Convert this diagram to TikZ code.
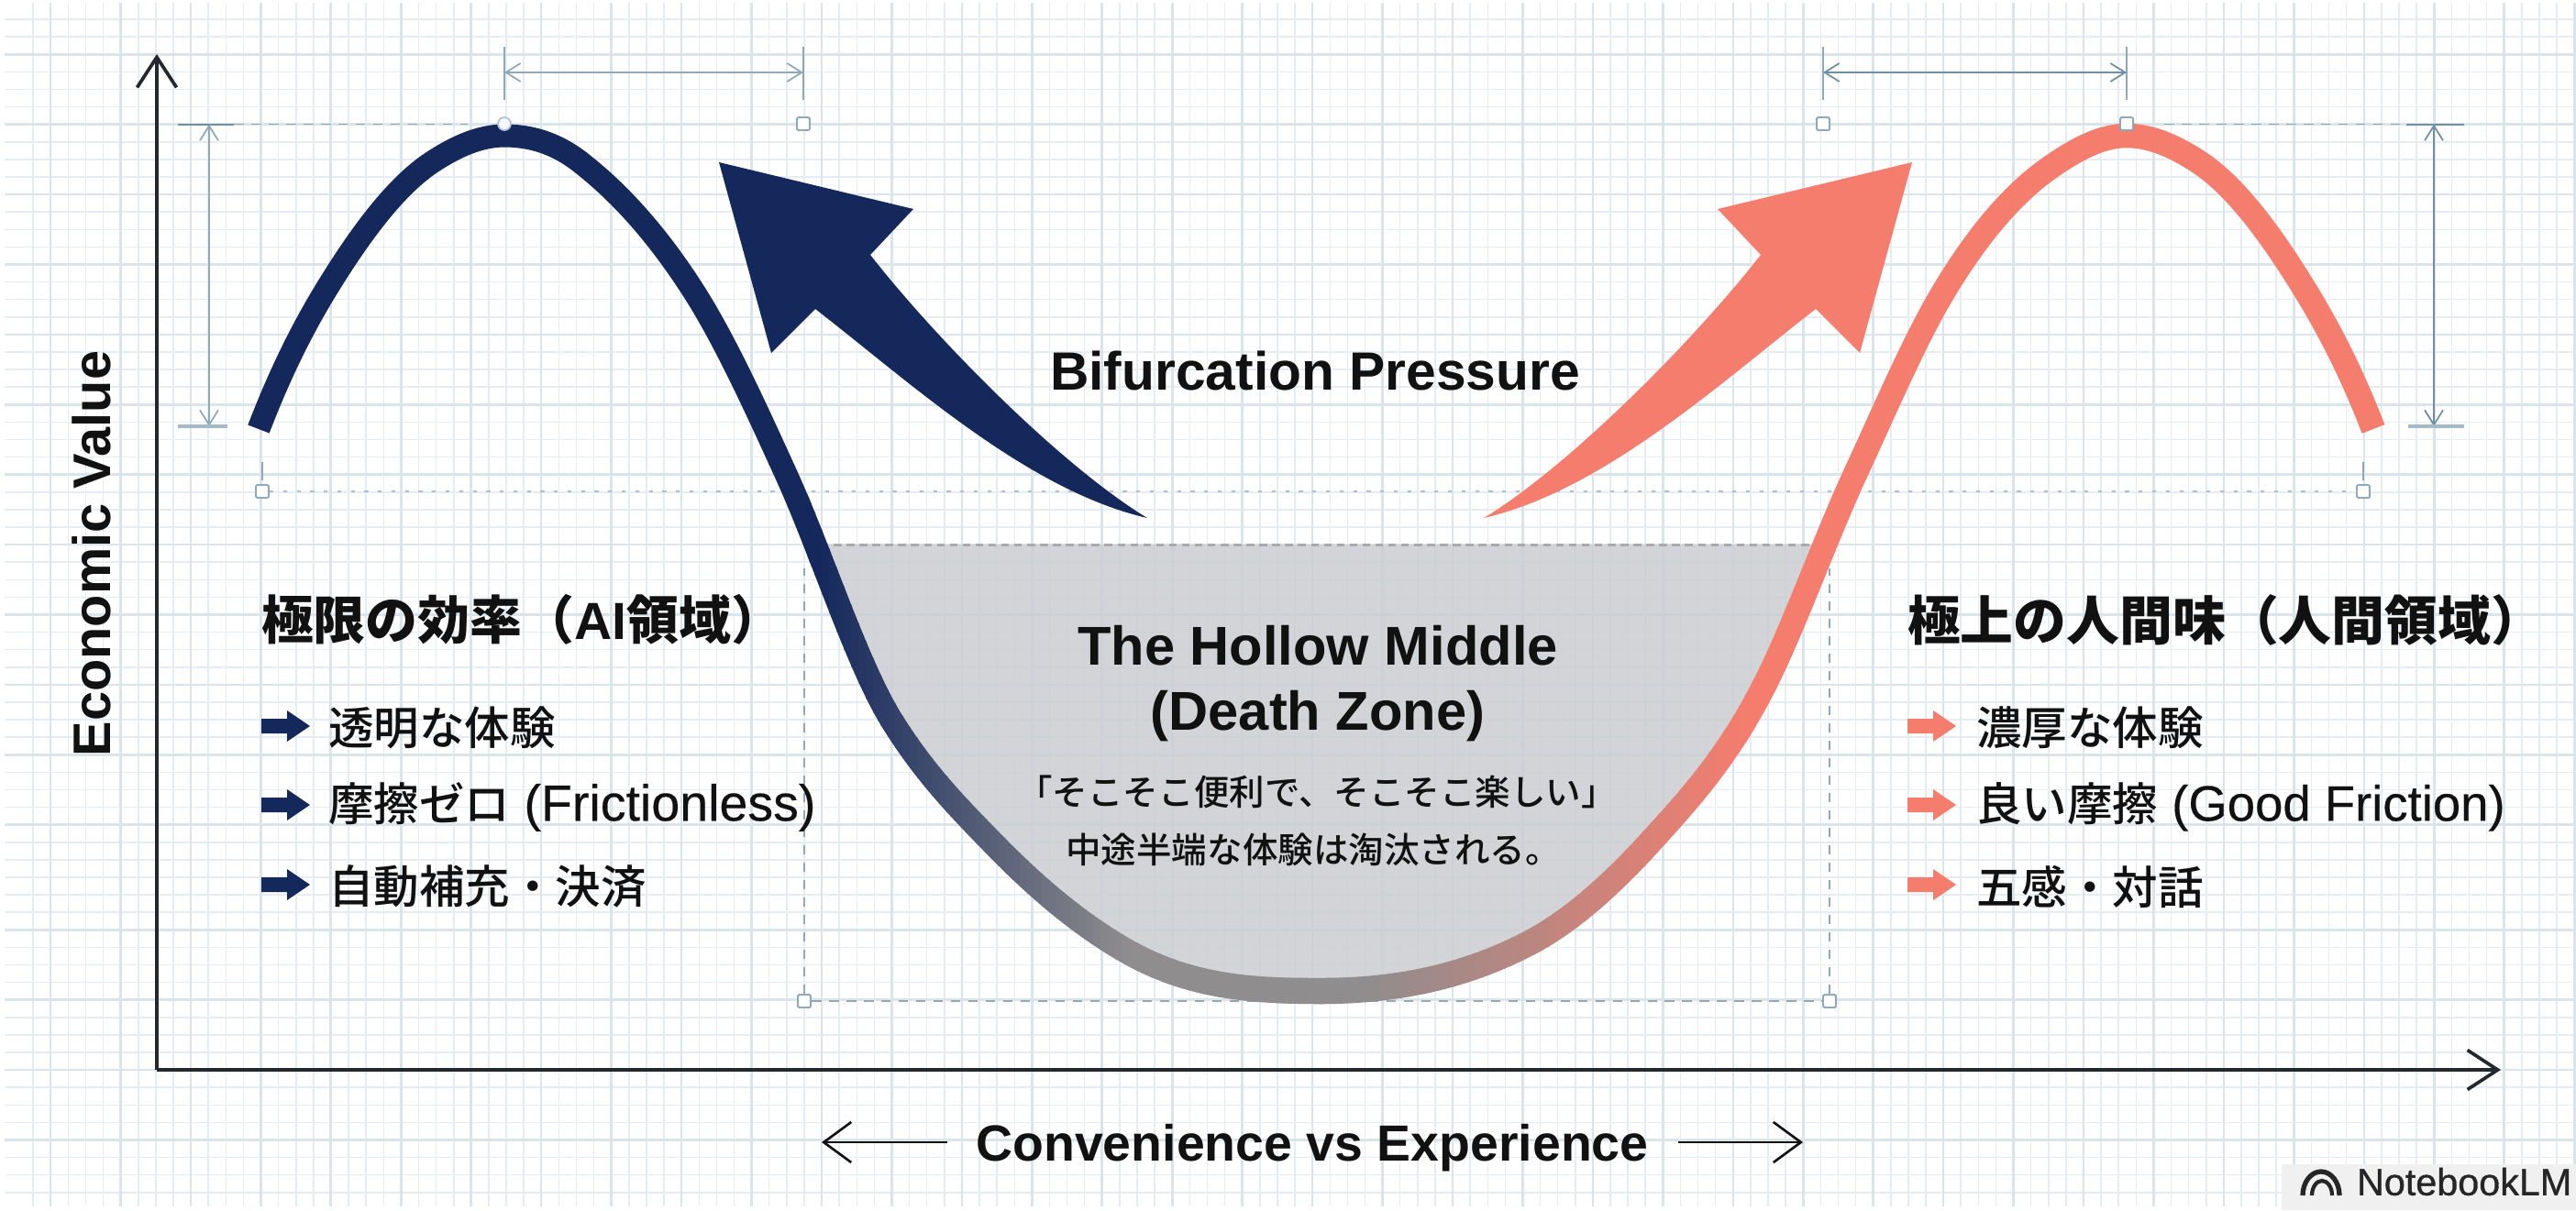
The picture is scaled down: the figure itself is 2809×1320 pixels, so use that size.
\documentclass[tikz,border=0pt]{standalone}
\usepackage{fontspec}
\usetikzlibrary{arrows.meta}
\setmainfont{Liberation Sans}
\newfontfamily\cjk{Noto Sans CJK JP}
\newfontfamily\cjkm{Noto Sans CJK JP Medium}
\newfontfamily\latm[FakeBold=0.3]{Liberation Sans}
\newfontfamily\latn[FakeBold=0.8]{Liberation Sans}
\newcommand{\fsz}[1]{\fontsize{#1pt}{#1pt}\selectfont}
\definecolor{navyc}{HTML}{14285C}
\definecolor{salmonc}{HTML}{F47D6E}
\definecolor{midc}{HTML}{8F8D8E}
\definecolor{gridminor}{HTML}{E6EDF2}
\definecolor{gridmajor}{HTML}{D9E4EB}
\definecolor{dimc}{HTML}{8FA9BB}
\definecolor{dimd}{HTML}{6F8FA6}
\definecolor{axisc}{HTML}{23272E}
\definecolor{hollowc}{HTML}{CCCFD2}
\definecolor{txtc}{HTML}{111111}
\tikzset{
  minorline/.style={gridminor,line width=0.43pt},
  majorline/.style={gridmajor,line width=0.75pt},
  axisline/.style={axisc,line width=1.05pt,-{Straight Barb[length=0.33cm,width=0.43cm,line width=1.05pt]}},
  sidearrow/.style={txtc,line width=0.75pt,-{Straight Barb[length=0.3cm,width=0.44cm,line width=0.75pt]}},
  dimtick/.style={dimc,line width=0.5pt},
  dimarrow/.style={dimc,line width=0.7pt,{Straight Barb[length=0.16cm,width=0.2cm,line width=0.5pt]}-{Straight Barb[length=0.16cm,width=0.2cm,line width=0.5pt]}},
  dimarrowd/.style={dimarrow,dimd},
  guidedash/.style={dimc,line width=0.5pt,dash pattern=on 3pt off 2.4pt},
  guidedot/.style={dimc!75,line width=0.55pt,dash pattern=on 1.2pt off 3pt},
  hollowdash/.style={midc!75,line width=0.85pt,dash pattern=on 2.4pt off 1.6pt},
  handle/.style={draw=dimc,fill=white,line width=0.55pt,rectangle,rounded corners=0.4pt,minimum size=0.14cm,inner sep=0pt},
  roundhandle/.style={draw=dimc!70,fill=white!92!dimc,line width=0.5pt,circle,minimum size=0.14cm,inner sep=0pt},
  curveline/.style={line cap=butt,line join=round},
  lbl/.style={inner sep=0pt,outer sep=0pt,text=txtc},
  itemlbl/.style={lbl,anchor=west},
}
\def\lowerpart{(857,517) .. controls (895.7,602) and (934.3,725.1) .. (973,787) .. controls (1009.7,845.7) and (1046.3,882.2) .. (1083,920) .. controls (1133,971.5) and (1183,1012.5) .. (1233,1040) .. controls (1302,1078) and (1371,1081) .. (1440,1081) .. controls (1515.7,1081) and (1591.3,1068.3) .. (1667,1029) .. controls (1711.3,1006) and (1755.7,966.8) .. (1800,918) .. controls (1839,875.1) and (1878,833) .. (1917,761) .. controls (1952.3,695.6) and (1987.7,593.3) .. (2023,517)}
\def\curvepath{(282,468) .. controls (306.3,404.7) and (330.7,356.9) .. (355,317) .. controls (393.7,253.6) and (432.3,202.5) .. (471,177) .. controls (497.3,159.6) and (523.7,148) .. (550,148) .. controls (577.7,148) and (605.3,155.4) .. (633,177) .. controls (674,209) and (715,253) .. (756,317) .. controls (789.7,369.5) and (823.3,443) .. \lowerpart .. controls (2055.3,447.2) and (2087.7,370.7) .. (2120,317) .. controls (2158.3,253.4) and (2196.7,209.8) .. (2235,183) .. controls (2263,163.4) and (2291,148) .. (2319,148) .. controls (2345.3,148) and (2371.7,159.6) .. (2398,177) .. controls (2436.7,202.5) and (2475.3,253.6) .. (2514,317) .. controls (2538.7,357.5) and (2563.3,403.9) .. (2588,468)}
\begin{document}
\begin{tikzpicture}[x=0.01cm,y=-0.01cm]
\useasboundingbox (0,0) rectangle (2809,1320);
\fill[white] (0,0) rectangle (2809,1320);
% grid
\foreach \k in {1,...,146} \draw[minorline] ({17+19.11*\k},3) -- ({17+19.11*\k},1316);
\foreach \k in {1,...,68} \draw[minorline] (5,{2+19.1*\k}) -- (2809,{2+19.1*\k});
\foreach \k in {0,...,36} \draw[majorline] ({55+76.45*\k},3) -- ({55+76.45*\k},1316);
\foreach \k in {3,7,...,47,53,57,61,65} \draw[majorline] (5,{2+19.1*\k}) -- (2809,{2+19.1*\k});
% guide handles
\node[handle] (hTL) at (876,135) {};
\node[handle] (hTR) at (1988,135) {};
\node[handle] (hBL) at (286,536) {};
\node[handle] (hBR) at (2577,536) {};
\node[handle] (hML) at (877,1092) {};
\node[handle] (hMR) at (1995,1092) {};
\coordinate (pkL) at (550,135);
\coordinate (pkR) at (2319,135);
\draw[guidedot] (hBL) -- (hBR);
\draw[guidedash] (hML) -- (hMR);
\coordinate (fL) at (877,620);
\coordinate (fR) at (1995,620);
\draw[guidedash] (hML) -- (fL);
\draw[guidedash] (hMR) -- (fR);
% small ticks above lower handles
\coordinate (tbl1) at (286,504); \coordinate (tbl2) at (286,524);
\coordinate (tbr1) at (2577,504); \coordinate (tbr2) at (2577,524);
\draw[dimtick] (tbl1) -- (tbl2);
\draw[dimtick] (tbr1) -- (tbr2);
% top dimensions
\foreach \nm/\xx in {a/550,b/876,c/1988,d/2319}{
  \coordinate (t\nm1) at (\xx,51); \coordinate (t\nm2) at (\xx,109);
  \draw[dimtick] (t\nm1) -- (t\nm2);
}
\coordinate (ma) at (550,79); \coordinate (mb) at (876,79);
\coordinate (mc) at (1988,79); \coordinate (md) at (2319,79);
\draw[dimarrow] (ma) -- (mb);
\draw[dimarrowd] (mc) -- (md);
% side dimensions
\coordinate (slT) at (228,135.6); \coordinate (slB) at (228,465);
\coordinate (srT) at (2654,135.6); \coordinate (srB) at (2654,465);
\draw[dimarrow] (slT) -- (slB);
\draw[dimarrowd] (srT) -- (srB);
\coordinate (a1) at (194,135.6); \coordinate (a2) at (255,135.6); \coordinate (a3) at (510,135.6);
\draw[dimd,line width=0.6pt] (a1) -- (a2);
\draw[guidedash] (a2) -- (a3);
\coordinate (b1) at (194,465); \coordinate (b2) at (248,465);
\draw[dimc!80,line width=0.95pt] (b1) -- (b2);
\coordinate (c1) at (2624,135.6); \coordinate (c2) at (2687,135.6); \coordinate (c3) at (2360,135.6);
\draw[dimd,line width=0.6pt] (c1) -- (c2);
\draw[guidedash] (c3) -- (c1);
\coordinate (d1) at (2626,465); \coordinate (d2) at (2687,465);
\draw[dimc!80,line width=0.95pt] (d1) -- (d2);
% axes
\coordinate (origin) at (171,1167);
\coordinate (ytop) at (171,59);
\coordinate (xend) at (2727,1167);
\draw[axisline] (origin) -- (ytop);
\draw[axisline] (origin) -- (xend);
% hollow
\begin{scope}
\clip (0,594) rectangle (2809,1320);
\fill[hollowc,opacity=0.88] \lowerpart -- cycle;
\end{scope}
\coordinate (hd1) at (895,594); \coordinate (hd2) at (1975,594);
\draw[hollowdash] (hd1) -- (hd2);
% gradient curve
\begin{scope}
\clip (0,0) rectangle (885,1320);
\draw[curveline,navyc,line width=0.25cm] \curvepath;
\end{scope}
\begin{scope}
\clip (1900,0) rectangle (2809,1320);
\draw[curveline,salmonc,line width=0.265cm] \curvepath;
\end{scope}
\foreach \x in {880,888,...,1904}{
  \ifnum\x<1434
    \pgfmathtruncatemacro\p{max(0,min(100,(1230-\x)/3.4))}
    \pgfmathsetmacro\w{0.25+(\x-880)*0.035/554}
    \colorlet{stripc}{navyc!\p!midc}
  \else
    \pgfmathtruncatemacro\p{max(0,min(100,(\x-1480)/4.2))}
    \pgfmathsetmacro\w{0.285-(\x-1434)*0.02/470}
    \colorlet{stripc}{salmonc!\p!midc}
  \fi
  \begin{scope}
  \clip (\x,0) rectangle (\x+9,1320);
  \draw[curveline,stripc,line width=\w cm] \curvepath;
  \end{scope}
}
\node[roundhandle] (hPL) at (pkL) {};
\node[handle] (hPR) at (pkR) {};
% big arrows
\fill[navyc] (784,177) -- (996,228) -- (949,278) .. controls (1025,375) and (1160,510) .. (1251,565) .. controls (1120,535) and (990,415) .. (889,337) -- (841,385) -- cycle;
\fill[salmonc] (2085,177) -- (1873,228) -- (1920,278) .. controls (1844,375) and (1709,510) .. (1618,565) .. controls (1749,535) and (1879,415) .. (1980,337) -- (2028,385) -- cycle;
% bullet arrows
\foreach \yy in {792,878,965}{
  \fill[navyc,shift={(285,\yy)}] (0,-8) -- (28,-8) -- (28,-17) -- (53,0) -- (28,17) -- (28,8) -- (0,8) -- cycle;
  \fill[salmonc,shift={(2080,\yy)}] (0,-8) -- (28,-8) -- (28,-17) -- (53,0) -- (28,17) -- (28,8) -- (0,8) -- cycle;
}
% labels
\node[lbl,rotate=90,font=\bfseries\fsz{16.4}] (ylabel) at (100,604) {Economic Value};
\node[lbl,font=\bfseries\fsz{16.7}] (bif) at (1434,404) {Bifurcation Pressure};
\node[lbl,font=\bfseries\fsz{15.76}] (xlabel) at (1431,1252) {Convenience vs Experience};
\coordinate (xl) at (896,1246); \coordinate (xr) at (1966,1246);
\coordinate (xls) at (1033,1246); \coordinate (xrs) at (1830,1246);
\draw[sidearrow] (xls) -- (xl);
\draw[sidearrow] (xrs) -- (xr);
\node[lbl,font=\bfseries\fsz{16.96}] (hm1) at (1437,704) {The Hollow Middle};
\node[lbl,font=\bfseries\fsz{16.96}] (hm2) at (1437,781) {(Death Zone)};
\node[lbl,font=\cjkm\fsz{10.95}] (hm3) at (1436,864) {「そこそこ便利で、そこそこ楽しい」};
\node[lbl,font=\cjkm\fsz{10.95}] (hm4) at (1432,927) {中途半端な体験は淘汰される。};
\node[lbl,anchor=west,font=\bfseries\fsz{16.2}] (ltitle) at (285,676) {{\cjk 極限の効率（}AI{\cjk 領域）}};
\node[lbl,anchor=west,font=\bfseries\fsz{16.45}] (rtitle) at (2080,676) {{\cjk 極上の人間味（人間領域）}};
\node[itemlbl,font=\cjkm\fsz{14.08}] (l1) at (358,794) {透明な体験};
\node[itemlbl,font=\latm\fsz{15.8}] (l2) at (358,880) {{\cjkm\fsz{14.08}摩擦ゼロ} (Frictionless)};
\node[itemlbl,font=\cjkm\fsz{14.08}] (l3) at (358,967) {自動補充・決済};
\node[itemlbl,font=\cjkm\fsz{14.08}] (r1) at (2155,794) {濃厚な体験};
\node[itemlbl,font=\latm\fsz{15.5}] (r2) at (2155,880) {{\cjkm\fsz{14.08}良い摩擦} (Good Friction)};
\node[itemlbl,font=\cjkm\fsz{14.08}] (r3) at (2155,967) {五感・対話};
% badge
\fill[black!6!white] (2488,1270) rectangle (2809,1320);
\node[lbl,anchor=west,font=\latn\fsz{11.75},text=black!85] (nblm) at (2570,1289) {NotebookLM};
\draw[black!85,line width=1.5pt,line cap=butt] (2511,1304) arc[start angle=180,end angle=0,x radius=0.2cm,y radius=0.26cm];
\draw[black!85,line width=1.2pt,line cap=butt] (2521,1304) arc[start angle=180,end angle=0,x radius=0.11cm,y radius=0.16cm];
\end{tikzpicture}
\end{document}
